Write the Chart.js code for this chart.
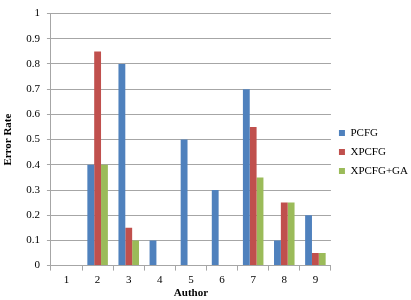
<!DOCTYPE html>
<html>
<head>
<meta charset="utf-8">
<script src="https://cdn.jsdelivr.net/npm/chart.js@4"></script>
<style>
  body { margin: 0; background: #fff; }
</style>
</head>
<body>
<canvas id="chart" width="411" height="300"></canvas>
<script>
const authors = ['1', '2', '3', '4', '5', '6', '7', '8', '9'];
const pcfg = [0, 0.4, 0.8, 0.1, 0.5, 0.3, 0.7, 0.1, 0.2];
const xpcfg = [0, 0.85, 0.15, 0, 0, 0, 0.55, 0.25, 0.05];
const xpcfgGa = [0, 0.4, 0.1, 0, 0, 0, 0.35, 0.25, 0.05];

const serif = 'Liberation Serif';

var data = {
    labels: authors,
    datasets: [
        { label: 'PCFG', data: pcfg, backgroundColor: '#4F81BD' },
        { label: 'XPCFG', data: xpcfg, backgroundColor: '#C0504D' },
        { label: 'XPCFG+GA', data: xpcfgGa, backgroundColor: '#9BBB59' }
    ]
};

var options = {
    responsive: false,
    animation: false,
    layout: { padding: { top: 4, right: -7, left: 2, bottom: 0 } },
    datasets: {
        bar: { categoryPercentage: 0.66, barPercentage: 1 }
    },
    plugins: {
        legend: {
            position: 'right',
            labels: {
                boxWidth: 6,
                boxHeight: 6,
                padding: 8,
                color: '#000',
                font: { family: serif, size: 11 }
            }
        },
        tooltip: { enabled: false }
    },
    scales: {
        y: {
            min: 0,
            max: 1,
            ticks: {
                stepSize: 0.1,
                color: '#000',
                font: { family: serif, size: 11 },
                padding: 7,
                callback: function (value) {
                    return Math.round(value * 10) / 10;
                }
            },
            grid: { color: '#a6a6a6', tickLength: 4 },
            border: { color: '#a6a6a6' },
            title: {
                display: true,
                text: 'Error Rate',
                color: '#000',
                font: { family: serif, size: 11, weight: 'bold' },
                padding: { top: 0, bottom: 4 }
            }
        },
        x: {
            ticks: {
                color: '#000',
                font: { family: serif, size: 11 },
                padding: 3
            },
            grid: {
                offset: true,
                drawOnChartArea: false,
                color: '#a6a6a6',
                tickLength: 5
            },
            border: { color: '#a6a6a6' },
            title: {
                display: true,
                text: 'Author',
                color: '#000',
                font: { family: serif, size: 11, weight: 'bold' },
                padding: { top: -3, bottom: 0 }
            }
        }
    }
};

new Chart('chart', {
    type: 'bar',
    data: data,
    options: options
});
</script>
</body>
</html>
